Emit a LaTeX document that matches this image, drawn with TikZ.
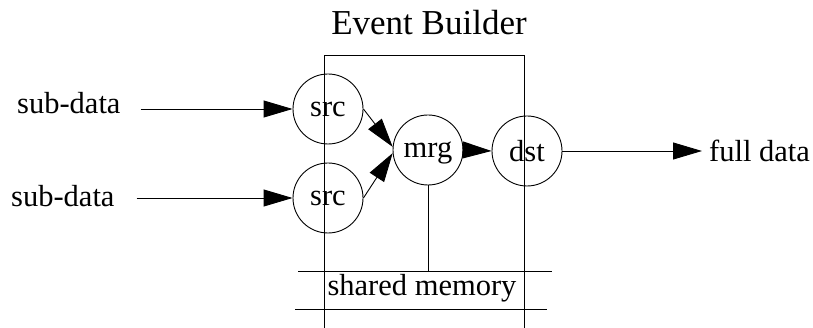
\documentclass[tikz,border=0pt]{standalone}
\usepackage{fontspec}
\setmainfont{Liberation Serif}
\usetikzlibrary{arrows.meta}
\begin{document}
\begin{tikzpicture}[x=1pt,y=-1pt,
  proc/.style={draw, circle, minimum size=70pt, inner sep=0pt, line width=0.9pt,
               font=\fontsize{30.5}{30}\selectfont},
  lbl/.style={inner sep=0pt, font=\fontsize{30.5}{30}\selectfont},
  flow/.style={line width=0.9pt, -{Triangle[length=29pt,width=17pt]}},
  wire/.style={line width=0.9pt}]
\useasboundingbox (0,0) rectangle (813,328);

% event builder frame
\coordinate (boxTL) at (324,55);
\coordinate (boxTR) at (524,55);
\coordinate (boxBL) at (324,328);
\coordinate (boxBR) at (524,328);
\draw[wire] (boxBL) -- (boxTL) -- (boxTR) -- (boxBR);
\node[anchor=base, inner sep=0pt, font=\fontsize{35}{35}\selectfont] (title) at (429,35) {Event Builder};

% shared memory rails
\coordinate (shmA) at (298,271);
\coordinate (shmB) at (552,271);
\coordinate (shmC) at (295,309);
\coordinate (shmD) at (547,309);
\draw[wire] (shmA) -- (shmB);
\draw[wire] (shmC) -- (shmD);
\node[lbl, anchor=base] (shm) at (422,295) {shared memory};

% processes
\node[proc] (src1) at (328,109) {src};
\node[proc] (src2) at (328,198) {src};
\node[proc, text depth=0pt] (mrg) at (428,150) {mrg};
\node[proc] (dst) at (527,151) {dst};

% external data
\node[lbl, anchor=base west] (in1) at (17,114) {sub-data};
\node[lbl, anchor=base west] (in2) at (11,207) {sub-data};
\node[lbl, anchor=base west] (out) at (709,162) {full data};

% data flow
\draw[flow, shorten <=20pt] (in1.east |- src1.west) -- (src1.west);
\draw[flow, shorten <=22pt] (in2.east |- src2.west) -- (src2.west);
\draw[flow] (src1.east) -- (mrg.175);
\draw[flow] (src2.east) -- (mrg.185);
\draw[flow] (mrg.east) -- (dst.west);
\draw[flow, shorten >=7pt] (dst.east) -- (out.west |- dst.east);
\draw[wire] (mrg.south) -- (mrg.south |- shmA);
\end{tikzpicture}
\end{document}
